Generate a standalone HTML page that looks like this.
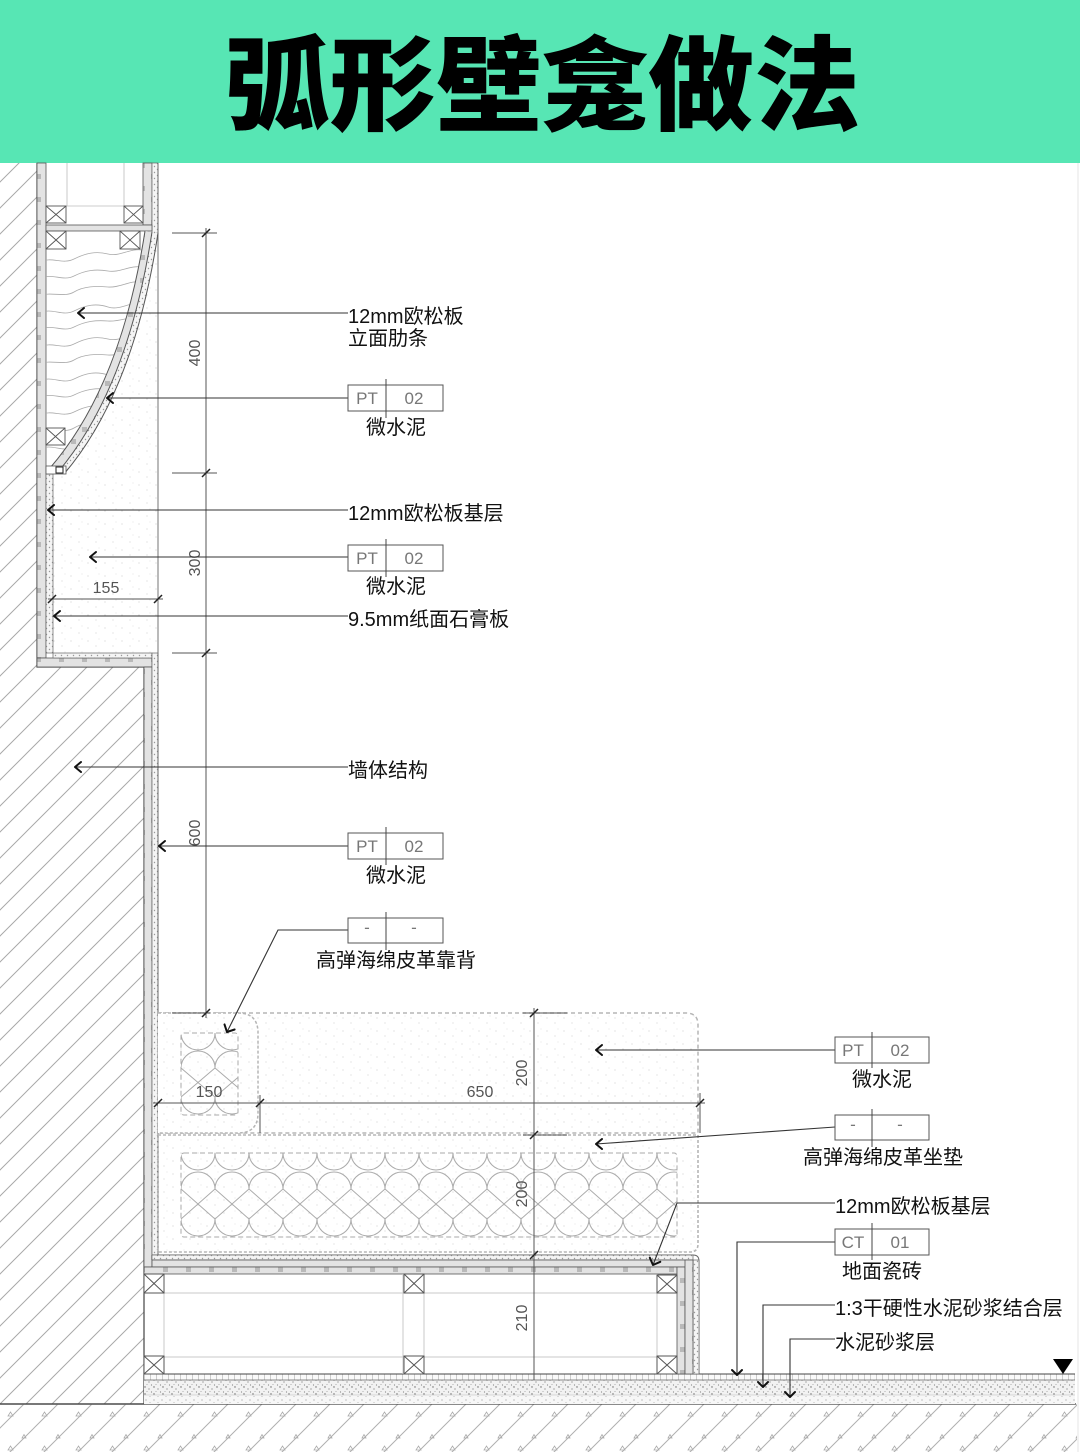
<!DOCTYPE html>
<html><head><meta charset="utf-8">
<style>
html,body{margin:0;padding:0;background:#fff;}
svg{display:block;}
.t{font-family:"Liberation Sans","Noto Sans CJK SC",sans-serif;font-size:20px;fill:#111;}
.b{font-family:"Liberation Sans Narrow","Liberation Sans",sans-serif;font-size:17px;fill:#777;}
.d{font-family:"Liberation Sans Narrow","Liberation Sans",sans-serif;font-size:16px;fill:#555;}
</style></head>
<body>
<svg width="1080" height="1452" viewBox="0 0 1080 1452" xmlns="http://www.w3.org/2000/svg">
<defs>
  <pattern id="hatch" patternUnits="userSpaceOnUse" width="26" height="26">
    <path d="M0,26 L26,0 M-3,3 L3,-3 M23,29 L29,23" stroke="#a9a9a9" stroke-width="1" fill="none"/>
  </pattern>
  <pattern id="fh" patternUnits="userSpaceOnUse" width="34" height="34">
    <path d="M0,34 L34,0 M-3,3 L3,-3 M31,37 L37,31" stroke="#b0b0b0" stroke-width="1" fill="none"/>
    <path d="M8,22 l5,0 l-2.5,-4 z M22,10 l4,0 l-2,-3.5 z" stroke="#aaa" stroke-width="0.8" fill="none"/>
  </pattern>
  <pattern id="osb" patternUnits="userSpaceOnUse" width="23" height="23">
    <rect width="23" height="23" fill="#e3e3e3"/>
    <rect x="2" y="2" width="5" height="5" fill="#b9b9b9"/>
    <rect x="13" y="13" width="5" height="5" fill="#b9b9b9"/>
  </pattern>
  <pattern id="gyp" patternUnits="userSpaceOnUse" width="6" height="6">
    <rect width="6" height="6" fill="#f5f5f5"/>
    <circle cx="1.5" cy="1.5" r="0.7" fill="#999"/>
    <circle cx="4.5" cy="4.5" r="0.7" fill="#999"/>
  </pattern>
  <pattern id="spk" patternUnits="userSpaceOnUse" width="17" height="13">
    <circle cx="3" cy="4" r="0.6" fill="#cfcfcf"/>
    <circle cx="11" cy="9" r="0.6" fill="#d5d5d5"/>
    <circle cx="14" cy="2" r="0.5" fill="#d8d8d8"/>
  </pattern>
  <pattern id="tile" patternUnits="userSpaceOnUse" width="6" height="6">
    <rect width="6" height="6" fill="#fafafa"/>
    <path d="M0,0 V6" stroke="#888" stroke-width="0.8"/>
  </pattern>
  <pattern id="scr" patternUnits="userSpaceOnUse" width="9" height="7">
    <rect width="9" height="7" fill="#f2f2f2"/>
    <circle cx="1" cy="1" r="0.7" fill="#666"/>
    <circle cx="5" cy="3" r="0.6" fill="#777"/>
    <circle cx="7.5" cy="6" r="0.6" fill="#888"/>
    <circle cx="3" cy="5.5" r="0.5" fill="#999"/>
  </pattern>
  <pattern id="mor" patternUnits="userSpaceOnUse" width="8" height="6">
    <rect width="8" height="6" fill="#f7f7f7"/>
    <circle cx="2" cy="2" r="0.6" fill="#999"/>
    <circle cx="6" cy="4.5" r="0.5" fill="#aaa"/>
  </pattern>
  <pattern id="spr" patternUnits="userSpaceOnUse" x="181" y="1153" width="34" height="84">
    <path d="M0,0 A17,17 0 0 0 34,0 M0,36 A17,17 0 0 1 34,36 L0,66 M0,36 L34,66 M0,66 A17,17 0 0 0 34,66" fill="none" stroke="#aaa" stroke-width="1"/>
  </pattern>
  <pattern id="spr2" patternUnits="userSpaceOnUse" x="181" y="1033" width="34" height="82">
    <path d="M0,0 A17,17 0 0 0 34,0 M0,35 A17,17 0 0 1 34,35 L0,64 M0,35 L34,64 M0,64 A17,17 0 0 0 34,64" fill="none" stroke="#aaa" stroke-width="1"/>
  </pattern>
  <clipPath id="wc"><path d="M46,249 H120 V231 H145 Q121,386 50,468 H46 Z"/></clipPath>
</defs>

<rect width="1080" height="1452" fill="#fff"/>

<!-- header -->
<rect x="0" y="0" width="1080" height="163" fill="#57e6b4"/>
<text x="0" y="122" text-anchor="middle" transform="translate(542,0) scale(1.03,1)" font-family="'Liberation Sans','Noto Sans CJK SC',sans-serif" font-size="103" font-weight="900" fill="#000">弧形壁龛做法</text>

<!-- right border faint -->
<line x1="1078" y1="163" x2="1078" y2="1452" stroke="#e6e6e6" stroke-width="1"/>

<!-- wall structure hatch -->
<path d="M0,163 H37 V667 H144 V1404 H0 Z" fill="url(#hatch)"/>
<path d="M37,163 V667 H144 V1404 H0" stroke="#444" stroke-width="1.2" fill="none"/>

<!-- floor structure -->
<rect x="0" y="1404" width="1077" height="48" fill="url(#fh)"/>
<line x1="0" y1="1404" x2="1076" y2="1404" stroke="#444" stroke-width="1.2"/>
<rect x="144" y="1374" width="931" height="6" fill="url(#tile)"/>
<rect x="144" y="1380" width="931" height="15" fill="url(#scr)"/>
<rect x="144" y="1395" width="931" height="9" fill="url(#mor)"/>
<line x1="144" y1="1374" x2="1075" y2="1374" stroke="#444" stroke-width="1"/>
<line x1="144" y1="1380" x2="1075" y2="1380" stroke="#666" stroke-width="0.8"/>
<line x1="144" y1="1395" x2="1075" y2="1395" stroke="#bbb" stroke-width="0.6"/>
<polygon points="1053,1359 1073,1359 1063,1374" fill="#000"/>

<!-- niche speckle -->
<path d="M158,233 Q134,392 64,474 H53 V653 H158 Z" fill="url(#spk)"/>

<!-- niche finishes -->
<rect x="37" y="163" width="9" height="495" fill="url(#osb)" stroke="#555" stroke-width="0.8"/>
<rect x="46" y="474" width="7" height="179" fill="url(#gyp)" stroke="#666" stroke-width="0.7"/>
<rect x="37" y="658" width="115" height="9" fill="url(#osb)" stroke="#555" stroke-width="0.8"/>
<rect x="144" y="667" width="8" height="600" fill="url(#osb)" stroke="#555" stroke-width="0.8"/>
<rect x="53" y="653" width="99" height="5" fill="url(#gyp)" stroke="#666" stroke-width="0.7"/>
<rect x="152" y="653" width="6" height="602" fill="url(#gyp)" stroke="#666" stroke-width="0.7"/>
<rect x="143" y="163" width="9" height="62" fill="url(#osb)" stroke="#555" stroke-width="0.8"/>
<rect x="152" y="163" width="6" height="70" fill="url(#gyp)" stroke="#666" stroke-width="0.7"/>
<line x1="158" y1="163" x2="158" y2="1255" stroke="#666" stroke-width="0.9"/>

<!-- top box above arc -->
<line x1="67" y1="163" x2="67" y2="206" stroke="#bbb" stroke-width="0.8"/>
<line x1="124" y1="163" x2="124" y2="206" stroke="#bbb" stroke-width="0.8"/>
<line x1="66" y1="206" x2="124" y2="206" stroke="#bbb" stroke-width="0.8"/>
<rect x="46" y="225" width="106" height="6" fill="url(#osb)" stroke="#555" stroke-width="0.8"/>
<g stroke="#555" stroke-width="0.9" fill="#fff">
  <rect x="46" y="206" width="20" height="17"/><path d="M46,206 L66,223 M66,206 L46,223" fill="none"/>
  <rect x="124" y="206" width="19" height="17"/><path d="M124,206 L143,223 M143,206 L124,223" fill="none"/>
  <rect x="46" y="231" width="20" height="18"/><path d="M46,231 L66,249 M66,231 L46,249" fill="none"/>
  <rect x="120" y="231" width="20" height="18"/><path d="M120,231 L140,249 M140,231 L120,249" fill="none"/>
</g>

<!-- wood grain -->
<g clip-path="url(#wc)" stroke="#aaa" stroke-width="0.8" fill="none">
  <path d="M40,262 c12,-6 22,3 34,-3 s22,-8 34,-5 s22,-6 34,-4 s20,-8 34,-4"/>
  <path d="M40,279 c12,-7 22,3 34,-3 s22,-7 34,-5 s22,-6 34,-4"/>
  <path d="M40,296 c10,-5 24,2 34,-4 s22,-6 34,-5 s22,-7 34,-5"/>
  <path d="M40,313 c12,-6 22,4 34,-2 s22,-8 34,-4 s22,-6 34,-3"/>
  <path d="M40,330 c12,-7 22,3 34,-3 s22,-7 34,-6 s22,-5 34,-4"/>
  <path d="M40,347 c12,-6 22,3 34,-3 s22,-8 34,-5 s22,-6 34,-4"/>
  <path d="M40,364 c10,-5 24,2 34,-4 s22,-6 34,-5 s22,-7 34,-5"/>
  <path d="M40,381 c12,-6 22,4 34,-2 s22,-8 34,-4 s22,-6 34,-3"/>
  <path d="M40,398 c12,-7 22,3 34,-3 s22,-7 34,-6"/>
  <path d="M40,415 c12,-6 22,3 34,-3 s22,-8 34,-5"/>
  <path d="M40,432 c10,-5 24,2 34,-4 s22,-6 34,-5"/>
  <path d="M40,449 c12,-6 22,4 34,-2 s22,-8 34,-4"/>
</g>
<g stroke="#555" stroke-width="0.9" fill="#fff">
  <rect x="46" y="428" width="19" height="17"/><path d="M46,428 L65,445 M65,428 L46,445" fill="none"/>
</g>

<!-- arc panel -->
<path d="M145,231 Q121,386 50,468 L58,472 Q128,389 152,232 Z" fill="url(#osb)"/>
<path d="M152,232 Q128,389 58,472 L64,474 Q134,392 158,233 Z" fill="url(#gyp)"/>
<g stroke="#555" stroke-width="1" fill="none">
  <path d="M145,231 Q121,386 50,468"/>
  <path d="M152,232 Q128,389 58,472"/>
  <path d="M158,233 Q134,392 64,474"/>
</g>
<rect x="46" y="466" width="20" height="8" fill="#fff" stroke="#555" stroke-width="0.8"/>
<rect x="56" y="467" width="7" height="6" fill="#fff" stroke="#222" stroke-width="1"/>

<!-- seat cushions -->
<path d="M158,1013 H686 Q698,1013 698,1025 V1133 H158 Z" fill="url(#spk)" stroke="#b5b5b5" stroke-width="1.5" stroke-dasharray="4,3"/>
<path d="M158,1013 H238 Q258,1013 258,1033 V1113 Q258,1133 238,1133 H158" fill="#fff" stroke="#b5b5b5" stroke-width="1.5" stroke-dasharray="3,2"/>
<path d="M158,1013 H238 Q258,1013 258,1033 V1113 Q258,1133 238,1133 H158" fill="url(#spk)"/>
<rect x="181" y="1033" width="57" height="82" fill="url(#spr2)" stroke="#aaa" stroke-width="1" stroke-dasharray="5,3" rx="3"/>
<path d="M158,1135 H698 V1244 Q698,1252 690,1252 H158 Z" fill="url(#spk)" stroke="#b5b5b5" stroke-width="1.6" stroke-dasharray="3,2"/>
<rect x="181" y="1153" width="496" height="84" fill="url(#spr)" stroke="#aaa" stroke-width="1" stroke-dasharray="5,3" rx="3"/>

<!-- seat base -->
<path d="M152,1255 H693 Q699,1255 699,1261 V1374" fill="none" stroke="#666" stroke-width="1"/>
<rect x="152" y="1255" width="541" height="5" fill="url(#gyp)" stroke="#666" stroke-width="0.7"/>
<rect x="693" y="1260" width="6" height="114" fill="url(#gyp)" stroke="#666" stroke-width="0.7"/>
<rect x="152" y="1260" width="541" height="7" fill="url(#osb)" stroke="#555" stroke-width="0.8"/>
<rect x="144" y="1267" width="533" height="7" fill="url(#osb)" stroke="#555" stroke-width="0.8"/>
<rect x="677" y="1267" width="8" height="107" fill="url(#osb)" stroke="#555" stroke-width="0.8"/>
<rect x="685" y="1260" width="8" height="114" fill="url(#osb)" stroke="#555" stroke-width="0.8"/>
<g stroke="#c8c8c8" stroke-width="1" fill="none">
  <line x1="164" y1="1293" x2="657" y2="1293"/>
  <line x1="164" y1="1357" x2="657" y2="1357"/>
  <line x1="164" y1="1274" x2="164" y2="1374"/>
  <line x1="403" y1="1274" x2="403" y2="1374"/>
  <line x1="424" y1="1274" x2="424" y2="1374"/>
  <line x1="657" y1="1274" x2="657" y2="1374"/>
</g>
<g stroke="#555" stroke-width="1" fill="#fff">
  <rect x="144" y="1274" width="20" height="19"/><path d="M144,1274 L164,1293 M164,1274 L144,1293" fill="none"/>
  <rect x="144" y="1356" width="20" height="18"/><path d="M144,1356 L164,1374 M164,1356 L144,1374" fill="none"/>
  <rect x="404" y="1274" width="20" height="19"/><path d="M404,1274 L424,1293 M424,1274 L404,1293" fill="none"/>
  <rect x="404" y="1356" width="20" height="18"/><path d="M404,1356 L424,1374 M424,1356 L404,1374" fill="none"/>
  <rect x="657" y="1275" width="20" height="18"/><path d="M657,1275 L677,1293 M677,1275 L657,1293" fill="none"/>
  <rect x="657" y="1356" width="20" height="18"/><path d="M657,1356 L677,1374 M677,1356 L657,1374" fill="none"/>
</g>

<!-- dimension lines -->
<g stroke="#555" stroke-width="1" fill="none">
  <line x1="206" y1="228" x2="206" y2="1018"/>
  <line x1="172" y1="233" x2="217" y2="233"/>
  <line x1="172" y1="473" x2="217" y2="473"/>
  <line x1="172" y1="653" x2="217" y2="653"/>
  <line x1="172" y1="1013" x2="210" y2="1013"/>
  <line x1="48" y1="599" x2="163" y2="599"/>
  <line x1="534" y1="1008" x2="534" y2="1380"/>
  <line x1="523" y1="1013" x2="567" y2="1013"/>
  <line x1="523" y1="1135" x2="567" y2="1135"/>
  <line x1="153" y1="1103" x2="705" y2="1103"/>
  <line x1="260" y1="1095" x2="260" y2="1133"/>
  <line x1="700" y1="1093" x2="700" y2="1133"/>
</g>
<g stroke="#222" stroke-width="1.5" fill="none">
  <path d="M202,237 L210,229 M202,477 L210,469 M202,657 L210,649 M202,1017 L210,1009"/>
  <path d="M48,603 L56,595 M154,603 L162,595"/>
  <path d="M530,1017 L538,1009 M530,1139 L538,1131 M530,1259 L538,1251"/>
  <path d="M154,1107 L162,1099 M256,1107 L264,1099 M696,1107 L704,1099"/>
</g>
<text class="d" transform="translate(200,353) rotate(-90)" text-anchor="middle">400</text>
<text class="d" transform="translate(200,563) rotate(-90)" text-anchor="middle">300</text>
<text class="d" transform="translate(200,833) rotate(-90)" text-anchor="middle">600</text>
<text class="d" x="106" y="593" text-anchor="middle">155</text>
<text class="d" x="209" y="1097" text-anchor="middle">150</text>
<text class="d" x="480" y="1097" text-anchor="middle">650</text>
<text class="d" transform="translate(527,1073) rotate(-90)" text-anchor="middle">200</text>
<text class="d" transform="translate(527,1194) rotate(-90)" text-anchor="middle">200</text>
<text class="d" transform="translate(527,1318) rotate(-90)" text-anchor="middle">210</text>

<!-- leaders -->
<g stroke="#333" stroke-width="1.1" fill="none">
  <line x1="78" y1="313" x2="348" y2="313"/>
  <line x1="107" y1="398" x2="348" y2="398"/>
  <line x1="48" y1="510" x2="348" y2="510"/>
  <line x1="90" y1="557" x2="348" y2="557"/>
  <line x1="54" y1="616" x2="348" y2="616"/>
  <line x1="75" y1="767" x2="348" y2="767"/>
  <line x1="159" y1="846" x2="348" y2="846"/>
  <path d="M348,930 H278 L227,1032"/>
  <line x1="596" y1="1050" x2="835" y2="1050"/>
  <line x1="596" y1="1144" x2="835" y2="1127"/>
  <path d="M835,1203 H677 L653,1265"/>
  <path d="M835,1242 H737 V1375"/>
  <path d="M835,1305 H763 V1387"/>
  <path d="M835,1339 H790 V1397"/>
</g>
<g stroke="#111" stroke-width="2" fill="none" stroke-linecap="round" stroke-linejoin="round">
  <path d="M84,308 L78,313 L84,318"/>
  <path d="M113,393 L107,398 L113,403"/>
  <path d="M54,505 L48,510 L54,515"/>
  <path d="M96,552 L90,557 L96,562"/>
  <path d="M60,611 L54,616 L60,621"/>
  <path d="M81,762 L75,767 L81,772"/>
  <path d="M165,841 L159,846 L165,851"/>
  <path d="M234.6,1029.5 L227,1032 L224.5,1024.4"/>
  <path d="M602,1045 L596,1050 L602,1055"/>
  <path d="M602,1139 L596,1144 L602,1149"/>
  <path d="M660.3,1261.8 L653,1265 L649.8,1257.7"/>
  <path d="M732,1370 L737,1375 L742,1370"/>
  <path d="M758,1382 L763,1387 L768,1382"/>
  <path d="M785,1392 L790,1397 L795,1392"/>
</g>

<!-- label boxes -->
<g stroke="#555" stroke-width="1" fill="#fff">
  <rect x="348" y="385" width="95" height="26"/>
  <rect x="348" y="545" width="95" height="26"/>
  <rect x="348" y="833" width="95" height="26"/>
  <rect x="348" y="918" width="95" height="25"/>
  <rect x="835" y="1037" width="94" height="26"/>
  <rect x="835" y="1115" width="94" height="25"/>
  <rect x="835" y="1229" width="94" height="26"/>
</g>
<g stroke="#444" stroke-width="1" fill="none">
  <line x1="386" y1="379" x2="386" y2="418"/>
  <line x1="386" y1="539" x2="386" y2="577"/>
  <line x1="386" y1="827" x2="386" y2="865"/>
  <line x1="386" y1="912" x2="386" y2="950"/>
  <line x1="872" y1="1032" x2="872" y2="1068"/>
  <line x1="872" y1="1109" x2="872" y2="1147"/>
  <line x1="872" y1="1223" x2="872" y2="1260"/>
</g>
<text class="b" x="367" y="404" text-anchor="middle">PT</text><text class="b" x="414" y="404" text-anchor="middle">02</text>
<text class="b" x="367" y="564" text-anchor="middle">PT</text><text class="b" x="414" y="564" text-anchor="middle">02</text>
<text class="b" x="367" y="852" text-anchor="middle">PT</text><text class="b" x="414" y="852" text-anchor="middle">02</text>
<text class="b" x="367" y="933" text-anchor="middle">-</text><text class="b" x="414" y="933" text-anchor="middle">-</text>
<text class="b" x="853" y="1056" text-anchor="middle">PT</text><text class="b" x="900" y="1056" text-anchor="middle">02</text>
<text class="b" x="853" y="1130" text-anchor="middle">-</text><text class="b" x="900" y="1130" text-anchor="middle">-</text>
<text class="b" x="853" y="1248" text-anchor="middle">CT</text><text class="b" x="900" y="1248" text-anchor="middle">01</text>

<!-- labels -->
<text class="t" x="348" y="323">12mm欧松板</text>
<text class="t" x="348" y="345">立面肋条</text>
<text class="t" x="396" y="434" text-anchor="middle">微水泥</text>
<text class="t" x="348" y="520">12mm欧松板基层</text>
<text class="t" x="396" y="593" text-anchor="middle">微水泥</text>
<text class="t" x="348" y="626">9.5mm纸面石膏板</text>
<text class="t" x="348" y="777">墙体结构</text>
<text class="t" x="396" y="882" text-anchor="middle">微水泥</text>
<text class="t" x="396" y="967" text-anchor="middle">高弹海绵皮革靠背</text>
<text class="t" x="882" y="1086" text-anchor="middle">微水泥</text>
<text class="t" x="883" y="1164" text-anchor="middle">高弹海绵皮革坐垫</text>
<text class="t" x="835" y="1213">12mm欧松板基层</text>
<text class="t" x="882" y="1278" text-anchor="middle">地面瓷砖</text>
<text class="t" x="835" y="1315">1:3干硬性水泥砂浆结合层</text>
<text class="t" x="835" y="1349">水泥砂浆层</text>
</svg>
</body></html>
